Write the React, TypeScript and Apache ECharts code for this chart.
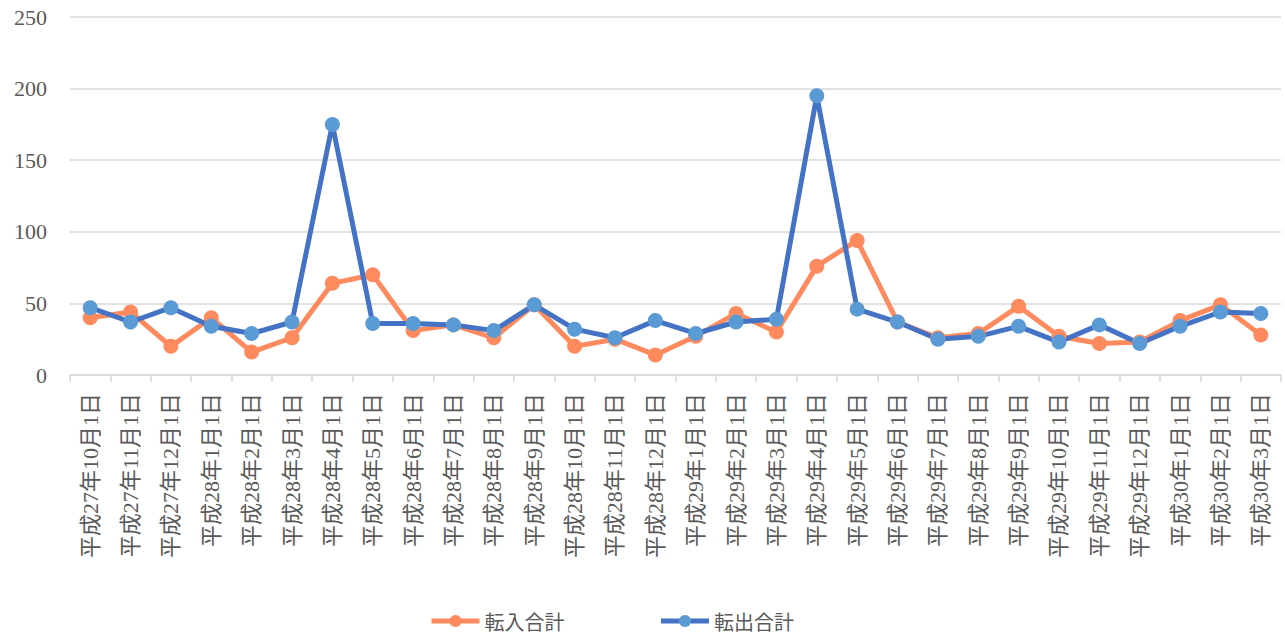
import React, { useEffect, useRef } from "react";
import * as echarts from "echarts";

const categories = [
  "平成27年10月1日", "平成27年11月1日", "平成27年12月1日",
  "平成28年1月1日", "平成28年2月1日", "平成28年3月1日", "平成28年4月1日",
  "平成28年5月1日", "平成28年6月1日", "平成28年7月1日", "平成28年8月1日",
  "平成28年9月1日", "平成28年10月1日", "平成28年11月1日", "平成28年12月1日",
  "平成29年1月1日", "平成29年2月1日", "平成29年3月1日", "平成29年4月1日",
  "平成29年5月1日", "平成29年6月1日", "平成29年7月1日", "平成29年8月1日",
  "平成29年9月1日", "平成29年10月1日", "平成29年11月1日", "平成29年12月1日",
  "平成30年1月1日", "平成30年2月1日", "平成30年3月1日",
];

const tennyu = [
  40, 44, 20, 40, 16, 26, 64, 70, 31, 35, 26, 49, 20, 25, 14,
  27, 43, 30, 76, 94, 37, 26, 29, 48, 27, 22, 23, 38, 49, 28,
];

const tenshutsu = [
  47, 37, 47, 34, 29, 37, 175, 36, 36, 35, 31, 49, 32, 26, 38,
  29, 37, 39, 195, 46, 37, 25, 27, 34, 23, 35, 22, 34, 44, 43,
];

const seriesNames = ["転入合計", "転出合計"];

export default function App() {
  const ref = useRef<HTMLDivElement>(null);
  useEffect(() => {
    if (!ref.current) return;
    const chart = echarts.init(ref.current, null, { renderer: "svg" });
    const serif = "Liberation Serif, Noto Sans CJK JP, serif";
    chart.setOption({
      animation: false,
      backgroundColor: "#ffffff",
      grid: { left: 70, right: 4, top: 17, bottom: 259, containLabel: false },
      legend: {
        left: 424,
        top: 606,
        itemWidth: 48,
        itemHeight: 15,
        itemGap: 94,
        lineStyle: { width: 5 },
        textStyle: { fontSize: 20, color: "#595959", fontFamily: "Noto Sans CJK JP, sans-serif" },
        data: seriesNames,
      },
      xAxis: {
        type: "category",
        data: categories,
        boundaryGap: true,
        axisLine: { lineStyle: { color: "#d9d9d9", width: 1.5 } },
        axisTick: { show: true, length: 7, interval: 0, lineStyle: { color: "#d9d9d9", width: 1.5 } },
        axisLabel: {
          interval: 0,
          rotate: 90,
          margin: 18,
          fontSize: 22,
          color: "#595959",
          fontFamily: serif,
        },
        splitLine: { show: false },
      },
      yAxis: {
        type: "value",
        min: 0,
        max: 250,
        interval: 50,
        axisLine: { show: false },
        axisTick: { show: false },
        axisLabel: { fontSize: 22, color: "#595959", fontFamily: "Liberation Serif, serif", margin: 23 },
        splitLine: { lineStyle: { color: "#d9d9d9", width: 1.5 } },
      },
      series: [
        {
          name: seriesNames[0],
          type: "line",
          data: tennyu,
          symbol: "circle",
          symbolSize: 15,
          lineStyle: { color: "#FF8A5E", width: 5 },
          itemStyle: { color: "#FF8A5E" },
        },
        {
          name: seriesNames[1],
          type: "line",
          data: tenshutsu,
          symbol: "circle",
          symbolSize: 15,
          lineStyle: { color: "#4472C4", width: 5 },
          itemStyle: { color: "#5B9BD5" },
        },
      ],
    });
    return () => chart.dispose();
  }, []);
  return (
    <div
      ref={ref}
      style={{ position: "fixed", left: 0, top: 0, width: 1285, height: 634 }}
    />
  );
}
